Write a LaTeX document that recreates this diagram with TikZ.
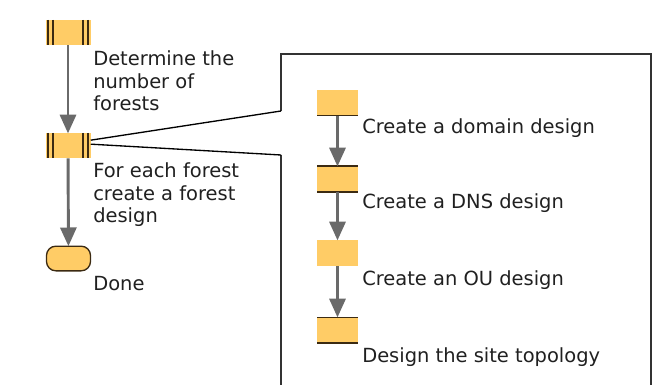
\documentclass[tikz,border=0pt]{standalone}
\usepackage{fontspec}
\setmainfont{DejaVu Sans}
\usetikzlibrary{calc,positioning,arrows.meta}
\definecolor{actfill}{HTML}{FFCC66}
\definecolor{actline}{HTML}{3B2A12}
\definecolor{flowgray}{HTML}{6A6A6A}
\definecolor{txtgray}{HTML}{202020}

\begin{document}
\begin{tikzpicture}[x=0.75pt, y=-0.75pt]
\tikzstyle{act}=[fill=actfill, inner sep=0pt, minimum width=30.75pt, minimum height=19.5pt]
\tikzstyle{bars}=[fill=actfill, inner sep=0pt, minimum width=33.75pt, minimum height=18.75pt,
  path picture={
    \foreach \dx in {1.6pt,5.5pt} {
      \draw[actline, line width=1.6pt] ([xshift=\dx]path picture bounding box.north west) -- ([xshift=\dx]path picture bounding box.south west);
      \draw[actline, line width=1.6pt] ([xshift=-\dx]path picture bounding box.north east) -- ([xshift=-\dx]path picture bounding box.south east);
    }}]
\tikzstyle{botln}=[path picture={\draw[actline, line width=2pt] (path picture bounding box.south west) -- (path picture bounding box.south east);}]
\tikzstyle{bothln}=[path picture={\draw[actline, line width=2pt] (path picture bounding box.north west) -- (path picture bounding box.north east);
  \draw[actline, line width=2pt] (path picture bounding box.south west) -- (path picture bounding box.south east);}]
\tikzstyle{lbl}=[inner sep=0pt, text=txtgray, align=left, font=\fontsize{14.6}{16.9}\selectfont]
\tikzstyle{flow}=[draw=flowgray, line width=2.2pt, -{Triangle[width=12pt, length=14pt]}, shorten >=-0.5pt]
\tikzstyle{wire}=[draw=black, line width=1pt]
\tikzstyle{frame}=[draw=black!80, line width=1.5pt]

\useasboundingbox[fill=white] (0,0) rectangle (672,385);

% left column
\node[bars] (D) at (68,32.5) {};
\node[bars] (F) at (68,145.5) {};
\node[fill=actfill, draw=actline, line width=1pt, rounded corners=7pt, inner sep=0pt,
  minimum width=33pt, minimum height=18.5pt] (E) at (68.5,258.5) {};
\node[lbl, anchor=north west] (Dt) at (93,50.5) {Determine the\\number of\\forests};
\node[lbl, anchor=north west] (Ft) at (93,162.5) {For each forest\\create a forest\\design};
\node[lbl, anchor=base west] (Et) at (93,290) {Done};
\draw[flow] (D) -- (F);
\draw[flow] (F) -- (E);

% right column
\node[act, botln] (A) at (337.5,103) {};
\node[act, bothln] (B) at (337.5,179) {};
\node[act] (C) at (337.5,253) {};
\node[act, bothln] (S) at (337.5,330) {};
\node[lbl, anchor=base west] (At) at (362,133) {Create a domain design};
\node[lbl, anchor=base west] (Bt) at (362,209) {Create a DNS design};
\node[lbl, anchor=base west] (Ct) at (362,285) {Create an OU design};
\node[lbl, anchor=base west] (St) at (362,362) {Design the site topology};
\draw[flow] (A) -- (B);
\draw[flow] (B) -- (C);
\draw[flow] (C) -- (S);

% frame for the expanded step
\coordinate (gapT) at (281,111);
\coordinate (gapB) at (281,155);
\coordinate (boxTL) at (281,54);
\coordinate (boxTR) at (651,54);
\coordinate (boxBR) at (651,386);
\coordinate (boxBL) at (281,386);
\draw[frame] (gapT) -- (boxTL) -- (boxTR) -- (boxBR);
\draw[frame] (gapB) -- (boxBL);
\draw[wire] ([yshift=4pt]F.east) -- (gapT);
\draw[wire] ([yshift=1pt]F.east) -- (gapB);
\end{tikzpicture}
\end{document}
